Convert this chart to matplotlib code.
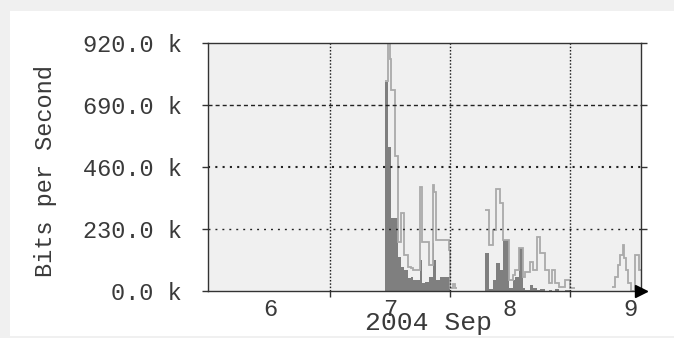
import matplotlib
matplotlib.use("Agg")
import matplotlib.pyplot as plt
from matplotlib.patches import Rectangle

# hours since 2004-09-06 00:00, step edges; values in k bits/s
edges_1 = [35.0, 35.6, 36.0, 36.3, 37.0, 37.5, 38.3, 38.8, 39.5, 40.2, 40.6, 42.0,
           42.4, 43.0, 43.7, 44.5, 44.8, 45.3, 46.0, 47.7, 48.0, 48.6, 49.0, 49.4]
light_1 = [780, 920, 862, 746, 500, 181, 289, 133, 89, 85, 78, 386,
           181, 181, 96, 392, 366, 188, 188, 152, 10, 25, 10]
dark_1 = [777, 533, 533, 270, 270, 126, 89, 78, 48, 52, 41, 115,
          30, 33, 52, 177, 115, 41, 52, 52, 0, 0, 0]

edges_2 = [55.1, 55.9, 56.7, 57.2, 58.0, 58.6, 59.8, 60.6, 61.0, 61.7, 62.5, 63.0,
           64.0, 64.6, 65.3, 66.0, 67.0, 67.7, 68.4, 68.9, 69.7, 71.0, 72.0, 73.0]
light_2 = [300, 170, 225, 380, 325, 188, 40, 60, 78, 160, 52, 70,
           108, 78, 200, 140, 78, 30, 78, 30, 15, 40, 11]
dark_2 = [140, 6, 40, 103, 78, 188, 10, 40, 52, 159, 11, 5,
          22, 10, 5, 8, 0, 5, 0, 8, 0, 5, 0]

edges_3 = [80.4, 81.0, 81.5, 82.0, 82.5, 82.8, 83.2, 83.6, 84.3, 85.0, 85.7, 86.4]
light_3 = [15, 52, 96, 133, 170, 122, 78, 30, 0, 133, 78]
dark_3 = [0, 0, 0, 0, 0, 0, 0, 0, 0, 0, 0]

y_ticks = [0, 230, 460, 690, 920]
y_labels = ["0.0 k", "230.0 k", "460.0 k", "690.0 k", "920.0 k"]
day_pos = [12, 36, 60, 84]
day_labels = ["6", "7", "8", "9"]
midnights = [24, 48, 72]

LIGHT = "#aaaaaa"
DARK = "#7f7f7f"
INK = "#222222"
TXT = "#3a3a3a"
FONT = "Liberation Mono"

fig = plt.figure(figsize=(6.74, 3.38), dpi=100)
fig.patch.set_facecolor("#f0f0f0")
fig.add_artist(Rectangle((10 / 674, 2 / 338), 1, (338 - 11 - 2) / 338,
                         transform=fig.transFigure, facecolor="white",
                         edgecolor="none", zorder=0))

ax = fig.add_axes([208 / 674, (338 - 291) / 338, 433 / 674, 248 / 338])
ax.set_facecolor("#f0f0f0")

for e, lt, dk in [(edges_1, light_1, dark_1), (edges_2, light_2, dark_2),
                  (edges_3, light_3, dark_3)]:
    ax.stairs(dk, e, fill=True, color=DARK, zorder=2)
    ax.stairs(lt, e, color=LIGHT, linewidth=1.3, baseline=None, zorder=3)

ax.set_xlim(-0.4, 86.2)
ax.set_ylim(0, 920)

# grid
ax.axhline(690, color=INK, lw=1.0, ls=(0, (2.9, 2.2)), zorder=4)
ax.axhline(460, color=INK, lw=1.5, ls=(0, (1.0, 2.5)), zorder=4)
ax.axhline(230, color=INK, lw=1.0, ls=(0, (1.4, 3.6)), zorder=4)
for m in midnights:
    ax.axvline(m, color=INK, lw=1.0, ls=(0, (1.1, 1.3)), zorder=4)

for s in ax.spines.values():
    s.set_color("#333333")
    s.set_linewidth(1.0)
    s.set_zorder(5)

ax.set_yticks(y_ticks)
ax.set_yticklabels(y_labels)
ax.tick_params(axis="y", direction="out", length=4, width=1, color="#333333",
               pad=15, right=True, labelsize=17, labelcolor=TXT)
ax.set_xticks(day_pos)
ax.set_xticklabels(day_labels)
ax.set_xticks(midnights, minor=True)
ax.tick_params(axis="x", which="major", length=0, pad=5, labelsize=17,
               labelcolor=TXT)
ax.tick_params(axis="x", which="minor", direction="out", length=4, width=1,
               color="#333333")
for lab in ax.get_xticklabels() + ax.get_yticklabels():
    lab.set_fontfamily(FONT)

# arrow at end of time axis
ax.plot([86.2], [0], marker=">", markersize=9, color="black", clip_on=False,
        zorder=6)

fig.text(46 / 674, 1 - 171 / 338, "Bits per Second", rotation=90,
         ha="center", va="center", fontsize=17, family=FONT, color=TXT)
fig.text(428 / 674, 1 - 323 / 338, "2004 Sep", ha="center", va="center",
         fontsize=19, family=FONT, color=TXT)

fig.savefig("out.png", dpi=100, facecolor=fig.get_facecolor())
plt.close(fig)
